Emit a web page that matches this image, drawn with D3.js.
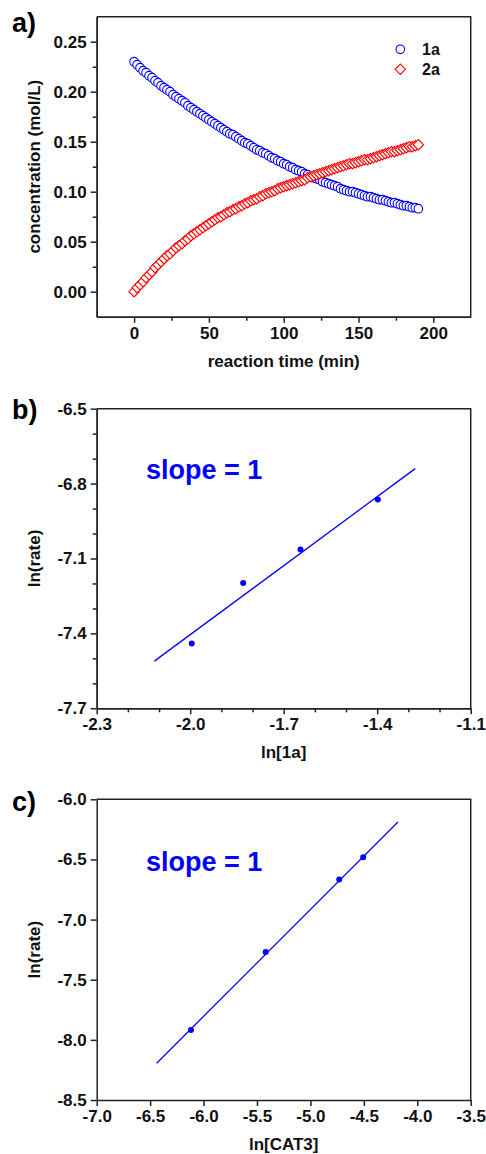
<!DOCTYPE html>
<html>
<head>
<meta charset="utf-8">
<script src="https://cdn.jsdelivr.net/npm/d3@7"></script>
<style>
  body { margin: 0; background: #fff; }
  text { font-family: "Liberation Sans", Arial, sans-serif; font-weight: bold; }
</style>
</head>
<body>
<div id="chart"></div>
<script>
// panel a: reaction profile (every 2 min)
const times = [0, 2, 4, 6, 8, 10, 12, 14, 16, 18, 20, 22, 24, 26, 28, 30, 32, 34, 36, 38, 40,
  42, 44, 46, 48, 50, 52, 54, 56, 58, 60, 62, 64, 66, 68, 70, 72, 74, 76, 78, 80,
  82, 84, 86, 88, 90, 92, 94, 96, 98, 100, 102, 104, 106, 108, 110, 112, 114, 116, 118, 120,
  122, 124, 126, 128, 130, 132, 134, 136, 138, 140, 142, 144, 146, 148, 150, 152, 154, 156, 158, 160,
  162, 164, 166, 168, 170, 172, 174, 176, 178, 180, 182, 184, 186, 188, 190];
const conc1a = [0.230, 0.227, 0.224, 0.221, 0.219, 0.216, 0.214, 0.211, 0.209, 0.206, 0.204,
  0.202, 0.200, 0.197, 0.195, 0.193, 0.191, 0.189, 0.186, 0.184, 0.182,
  0.180, 0.178, 0.176, 0.174, 0.172, 0.170, 0.168, 0.166, 0.164, 0.162,
  0.160, 0.158, 0.157, 0.155, 0.153, 0.151, 0.149, 0.148, 0.146, 0.144,
  0.142, 0.141, 0.139, 0.138, 0.136, 0.134, 0.133, 0.131, 0.130, 0.128,
  0.127, 0.125, 0.124, 0.122, 0.121, 0.120, 0.118, 0.117, 0.115, 0.114,
  0.113, 0.112, 0.110, 0.109, 0.108, 0.107, 0.106, 0.105, 0.103, 0.102,
  0.101, 0.100, 0.100, 0.099, 0.098, 0.097, 0.096, 0.095, 0.095, 0.094,
  0.093, 0.092, 0.092, 0.091, 0.090, 0.089, 0.089, 0.088, 0.087, 0.086,
  0.086, 0.085, 0.084, 0.084, 0.083];
const conc2a = [0.000, 0.004, 0.007, 0.010, 0.014, 0.017, 0.020, 0.024, 0.027, 0.030, 0.033,
  0.036, 0.038, 0.041, 0.044, 0.046, 0.048, 0.051, 0.053, 0.056, 0.058,
  0.060, 0.062, 0.064, 0.066, 0.068, 0.070, 0.072, 0.074, 0.075, 0.077,
  0.079, 0.080, 0.082, 0.083, 0.085, 0.086, 0.088, 0.089, 0.091, 0.092,
  0.093, 0.095, 0.096, 0.098, 0.099, 0.100, 0.101, 0.103, 0.104, 0.105,
  0.106, 0.107, 0.108, 0.109, 0.110, 0.111, 0.112, 0.114, 0.115, 0.116,
  0.117, 0.118, 0.119, 0.120, 0.121, 0.122, 0.123, 0.124, 0.125, 0.126,
  0.127, 0.128, 0.128, 0.129, 0.130, 0.131, 0.132, 0.132, 0.133, 0.134,
  0.135, 0.136, 0.137, 0.138, 0.139, 0.140, 0.140, 0.141, 0.142, 0.143,
  0.144, 0.145, 0.145, 0.146, 0.147];
const seriesNames = ["1a", "2a"];

// panel b: ln(rate) vs ln[1a]
const ln1a = [-1.995, -1.830, -1.646, -1.398];
const lnRateB = [-7.44, -7.198, -7.064, -6.864];
const fitB = [[-2.115, -7.511], [-1.278, -6.740]];

// panel c: ln(rate) vs ln[CAT3]
const lnCat = [-6.118, -5.419, -4.730, -4.506];
const lnRateC = [-7.917, -7.269, -6.667, -6.481];
const fitC = [[-6.439, -8.194], [-4.181, -6.189]];

// ticks
const aXMajor = [0, 50, 100, 150, 200];
const aXMinor = [25, 75, 125, 175];
const aYMajor = [0.00, 0.05, 0.10, 0.15, 0.20, 0.25];
const aYMinor = [0.025, 0.075, 0.125, 0.175, 0.225];
const bXMajor = [-2.3, -2.0, -1.7, -1.4, -1.1];
const bXMinor = [-2.2, -2.1, -1.9, -1.8, -1.6, -1.5, -1.3, -1.2];
const bYMajor = [-7.7, -7.4, -7.1, -6.8, -6.5];
const bYMinor = [-7.6, -7.5, -7.3, -7.2, -7.0, -6.9, -6.7, -6.6];
const cXMajor = [-7.0, -6.5, -6.0, -5.5, -5.0, -4.5, -4.0, -3.5];
const cYMajor = [-8.5, -8.0, -7.5, -7.0, -6.5, -6.0];

const W = 486, H = 1154;
const left = 96.7, right = 470.7;
const axisColor = "#222";

const svg = d3.select("#chart")
  .append("svg")
  .attr("width", W)
  .attr("height", H);

const drawFrame = (x, y, p) => {
  const g = svg.append("g");
  const [y0, y1] = y.range();

  // frame (top + right)
  g.append("path")
    .attr("d", `M${left},${y1}H${right}V${y0}`)
    .attr("fill", "none")
    .attr("stroke", axisColor)
    .attr("stroke-width", 1.5);

  g.append("g").attr("transform", `translate(0,${y0})`)
    .call(d3.axisBottom(x).tickValues(p.xMajor).tickSize(6).tickSizeOuter(0).tickPadding(4).tickFormat(p.xFmt));
  if (p.xMinor) {
    g.append("g").attr("transform", `translate(0,${y0})`)
      .call(d3.axisBottom(x).tickValues(p.xMinor).tickSize(4).tickSizeOuter(0).tickFormat(""));
  }
  g.append("g").attr("transform", `translate(${left},0)`)
    .call(d3.axisLeft(y).tickValues(p.yMajor).tickSize(6).tickSizeOuter(0).tickPadding(4).tickFormat(p.yFmt));
  if (p.yMinor) {
    g.append("g").attr("transform", `translate(${left},0)`)
      .call(d3.axisLeft(y).tickValues(p.yMinor).tickSize(4).tickSizeOuter(0).tickFormat(""));
  }
  g.selectAll(".domain, .tick line").attr("stroke", axisColor).attr("stroke-width", 1.5);
  g.selectAll(".tick text").attr("fill", "#111").style("font-size", "17px")
    .style("font-family", '"Liberation Sans", Arial, sans-serif').style("font-weight", "bold");

  g.append("text")
    .attr("x", (left + right) / 2)
    .attr("y", y0 + 50)
    .attr("text-anchor", "middle")
    .style("font-size", "17px")
    .attr("fill", "#111")
    .text(p.xTitle);

  g.append("text")
    .attr("transform", `translate(40,${(y0 + y1) / 2}) rotate(-90)`)
    .attr("text-anchor", "middle")
    .style("font-size", "17px")
    .attr("fill", "#111")
    .text(p.yTitle);

  g.append("text")
    .attr("x", 12)
    .attr("y", p.labelY)
    .style("font-size", "27px")
    .attr("fill", "#000")
    .text(p.label);
  return g;
};

// ---------- panel a ----------
const xA = d3.scaleLinear().domain([-25, 225]).range([left, right]);
const yA = d3.scaleLinear().domain([-0.025, 0.275]).range([316.7, 16.7]);
const gA = drawFrame(xA, yA, {
  xMajor: aXMajor, xMinor: aXMinor, yMajor: aYMajor, yMinor: aYMinor,
  xFmt: d3.format("d"), yFmt: d3.format(".2f"),
  xTitle: "reaction time (min)", yTitle: "concentration (mol/L)", label: "a)", labelY: 32
});

const diamond = r => `M0,${-r}L${r},0L0,${r}L${-r},0Z`;

gA.append("g").selectAll("circle")
  .data(times.map((t, i) => [t, conc1a[i]]))
  .join("circle")
  .attr("cx", d => xA(d[0]))
  .attr("cy", d => yA(d[1]))
  .attr("r", 4.3)
  .attr("fill", "#fff")
  .attr("stroke", "#0000ff")
  .attr("stroke-width", 1.1);

gA.append("g").selectAll("path")
  .data(times.map((t, i) => [t, conc2a[i]]))
  .join("path")
  .attr("transform", d => `translate(${xA(d[0])},${yA(d[1])})`)
  .attr("d", diamond(5.2))
  .attr("fill", "#fff")
  .attr("stroke", "#ff0000")
  .attr("stroke-width", 1.1);

// legend
const legend = gA.append("g");
legend.append("circle").attr("cx", 400.3).attr("cy", 49.3).attr("r", 4.3)
  .attr("fill", "#fff").attr("stroke", "#0000ff").attr("stroke-width", 1.1);
legend.append("path").attr("transform", "translate(400.3,69.3)").attr("d", diamond(5.2))
  .attr("fill", "#fff").attr("stroke", "#ff0000").attr("stroke-width", 1.1);
legend.selectAll("text").data(seriesNames).join("text")
  .attr("x", 422)
  .attr("y", (d, i) => 55 + i * 20)
  .style("font-size", "16px")
  .attr("fill", "#111")
  .text(d => d);

// ---------- panels b, c ----------
const drawFit = (g, x, y, xs, ys, fit, textY) => {
  g.append("path")
    .datum(fit)
    .attr("fill", "none")
    .attr("stroke", "#0000ff")
    .attr("stroke-width", 1.3)
    .attr("d", d3.line().x(d => x(d[0])).y(d => y(d[1])));
  g.append("g").selectAll("circle")
    .data(xs.map((v, i) => [v, ys[i]]))
    .join("circle")
    .attr("cx", d => x(d[0]))
    .attr("cy", d => y(d[1]))
    .attr("r", 3)
    .attr("fill", "#0000ff");
  g.append("text")
    .attr("x", 146)
    .attr("y", textY)
    .style("font-size", "27px")
    .attr("fill", "#0000ff")
    .text("slope = 1");
};

const xB = d3.scaleLinear().domain([-2.3, -1.1]).range([left, right]);
const yB = d3.scaleLinear().domain([-7.7, -6.5]).range([708.3, 408.7]);
const gB = drawFrame(xB, yB, {
  xMajor: bXMajor, xMinor: bXMinor, yMajor: bYMajor, yMinor: bYMinor,
  xFmt: d3.format(".1f"), yFmt: d3.format(".1f"),
  xTitle: "ln[1a]", yTitle: "ln(rate)", label: "b)", labelY: 419
});
drawFit(gB, xB, yB, ln1a, lnRateB, fitB, 479);

const xC = d3.scaleLinear().domain([-7.0, -3.5]).range([left, right]);
const yC = d3.scaleLinear().domain([-8.5, -6.0]).range([1100, 799.3]);
const gC = drawFrame(xC, yC, {
  xMajor: cXMajor, yMajor: cYMajor,
  xFmt: d3.format(".1f"), yFmt: d3.format(".1f"),
  xTitle: "ln[CAT3]", yTitle: "ln(rate)", label: "c)", labelY: 811
});
drawFit(gC, xC, yC, lnCat, lnRateC, fitC, 871);

// d3.format uses a unicode minus; the figure uses a plain hyphen
svg.selectAll(".tick text").text(function () { return d3.select(this).text().replace("\u2212", "-"); });
</script>
</body>
</html>
